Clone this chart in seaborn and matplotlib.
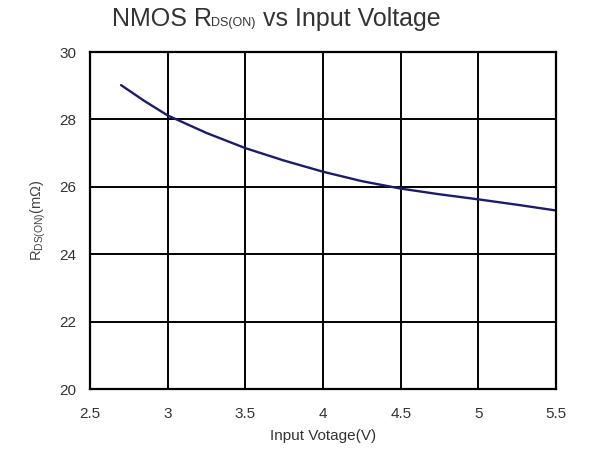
import matplotlib
matplotlib.use("Agg")
import matplotlib.pyplot as plt
import seaborn as sns
import pandas as pd

# values
voltage = [2.7, 2.85, 3.0, 3.25, 3.5, 3.75, 4.0, 4.25, 4.5, 4.75, 5.0, 5.25, 5.5]
rdson = [29.02, 28.55, 28.12, 27.6, 27.15, 26.78, 26.45, 26.17, 25.95, 25.78, 25.63, 25.47, 25.3]
x_ticks = [2.5, 3, 3.5, 4, 4.5, 5, 5.5]
x_tick_labels = ["2.5", "3", "3.5", "4", "4.5", "5", "5.5"]
y_ticks = [20, 22, 24, 26, 28, 30]
title_parts = ["NMOS R", "DS(ON)", " vs Input Voltage"]

data = pd.DataFrame({"Voltage": voltage, "Rdson": rdson})

sns.set_style("white")
plt.rcParams["font.family"] = ["Liberation Sans", "DejaVu Sans"]
plt.rcParams["mathtext.fontset"] = "custom"
plt.rcParams["mathtext.rm"] = "Liberation Sans"

fig = plt.figure(figsize=(6.14, 4.61), dpi=100)
ax = fig.add_axes([0.1466, 0.156, 0.759, 0.731])

sns.lineplot(data=data, x="Voltage", y="Rdson", color="#1c1c6b", linewidth=1.7, ax=ax)

ax.set_xlim(2.5, 5.5)
ax.set_ylim(20, 30)
ax.set_xticks(x_ticks)
ax.set_xticklabels(x_tick_labels)
ax.set_yticks(y_ticks)
ax.grid(True, color="black", linewidth=1.4)
for s in ax.spines.values():
    s.set_color("black")
    s.set_linewidth(1.6)
ax.tick_params(length=0, labelsize=11, colors="#333333")
ax.tick_params(axis="x", pad=13)
ax.tick_params(axis="y", pad=10)

ax.set_xlabel("Input Votage(V)", fontsize=11, color="#333333", labelpad=6)
ax.set_ylabel(r"R$_{\mathregular{DS(ON)}}$(m$\Omega$)", fontsize=10.5, color="#444444", labelpad=8)

# title with a small subscript, laid out piece by piece
sizes = [18, 9, 18]
renderer = fig.canvas.get_renderer()
texts = [fig.text(0, 0.943, t, fontsize=fs, va="baseline", ha="left", color="#333333")
         for t, fs in zip(title_parts, sizes)]
widths = [t.get_window_extent(renderer).width for t in texts]
x = 276 - sum(widths) / 2
for t, w in zip(texts, widths):
    t.set_x(x / fig.bbox.width)
    x += w

fig.savefig("out.png", dpi=100)
